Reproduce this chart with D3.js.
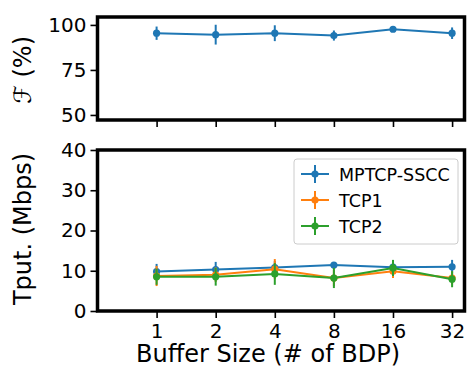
<!DOCTYPE html>
<html>
<head>
<meta charset="utf-8">
<script src="https://cdn.jsdelivr.net/npm/d3@7"></script>
<style>
  body { margin: 0; background: #fff; }
  svg { display: block; font-family: "DejaVu Sans", sans-serif; }
</style>
</head>
<body>
<div id="chart"></div>
<script>
var width = 467,
  height = 367;

// x categories (buffer size in # of BDP)
var bufferSizes = ["1", "2", "4", "8", "16", "32"];

// top panel: fairness (%)
var fairness = [95.4, 94.6, 95.4, 94.1, 97.6, 95.4];
var fairnessErr = [3.7, 5.5, 4.4, 2.8, 0.6, 3.2];
var fairnessTicks = [50, 75, 100];

// bottom panel: throughput (Mbps)
var seriesNames = ["MPTCP-SSCC", "TCP1", "TCP2"];
var mptcp = [9.8, 10.3, 10.8, 11.4, 10.9, 11.0];
var mptcpErr = [1.9, 1.9, 1.6, 0.7, 1.2, 1.7];
var tcp1 = [8.7, 9.0, 10.4, 8.2, 9.9, 8.2];
var tcp1Err = [2.5, 1.8, 2.5, 2.0, 1.7, 1.6];
var tcp2 = [8.5, 8.5, 9.2, 8.2, 10.7, 7.9];
var tcp2Err = [2.0, 2.2, 2.7, 2.5, 2.0, 2.0];
var tputTicks = [0, 10, 20, 30, 40];

var colors = ["#1f77b4", "#ff7f0e", "#2ca02c"];

var svg = d3.select("#chart").append("svg")
  .attr("width", width)
  .attr("height", height);

var left = 97.5, right = 464.5;

var x = d3.scaleLinear()
  .domain([-1, 5.21])
  .range([left, right]);

var yTop = d3.scaleLinear()
  .domain([47.2, 104.4])
  .range([120, 17]);

var yBot = d3.scaleLinear()
  .domain([0, 40])
  .range([311, 150]);

function drawAxes(y, ticks, showX) {
  var g = svg.append("g");
  var yAxis = d3.axisLeft(y).tickValues(ticks).tickSize(7).tickPadding(4);
  var ga = g.append("g").attr("transform", "translate(" + left + ",0)").call(yAxis);
  ga.select(".domain").remove();
  ga.selectAll(".tick line").attr("stroke", "#000").attr("stroke-width", 1.6);
  ga.selectAll(".tick text").attr("font-size", 20).attr("fill", "#000")
    .attr("font-family", "DejaVu Sans");

  var xAxis = d3.axisBottom(x).tickValues(d3.range(bufferSizes.length))
    .tickSize(7).tickPadding(6)
    .tickFormat(function (d) { return showX ? bufferSizes[d] : ""; });
  var gx = g.append("g").attr("transform", "translate(0," + y.range()[0] + ")").call(xAxis);
  gx.select(".domain").remove();
  gx.selectAll(".tick line").attr("stroke", "#000").attr("stroke-width", 1.6);
  gx.selectAll(".tick text").attr("font-size", 20).attr("fill", "#000")
    .attr("font-family", "DejaVu Sans");
}

function drawFrame(y) {
  svg.append("rect")
    .attr("x", left)
    .attr("y", y.range()[1])
    .attr("width", right - left)
    .attr("height", y.range()[0] - y.range()[1])
    .attr("fill", "none")
    .attr("stroke", "#000")
    .attr("stroke-width", 3.5);
}

function drawSeries(y, values, errs, color) {
  var g = svg.append("g");
  var line = d3.line()
    .x(function (d, i) { return x(i); })
    .y(function (d) { return y(d); });

  g.append("path")
    .datum(values)
    .attr("d", line)
    .attr("fill", "none")
    .attr("stroke", color)
    .attr("stroke-width", 2);

  g.selectAll("line.err")
    .data(values)
    .enter()
    .append("line")
    .attr("class", "err")
    .attr("x1", function (d, i) { return x(i); })
    .attr("x2", function (d, i) { return x(i); })
    .attr("y1", function (d, i) { return y(d - errs[i]); })
    .attr("y2", function (d, i) { return y(d + errs[i]); })
    .attr("stroke", color)
    .attr("stroke-width", 2);

  g.selectAll("circle")
    .data(values)
    .enter()
    .append("circle")
    .attr("cx", function (d, i) { return x(i); })
    .attr("cy", function (d) { return y(d); })
    .attr("r", 3.6)
    .attr("fill", color);
}

// top panel
drawAxes(yTop, fairnessTicks, false);
drawSeries(yTop, fairness, fairnessErr, colors[0]);
drawFrame(yTop);

// bottom panel
drawAxes(yBot, tputTicks, true);
drawSeries(yBot, mptcp, mptcpErr, colors[0]);
drawSeries(yBot, tcp1, tcp1Err, colors[1]);
drawSeries(yBot, tcp2, tcp2Err, colors[2]);
drawFrame(yBot);

// legend
var legend = svg.append("g").attr("transform", "translate(294,159)");
legend.append("rect")
  .attr("width", 164)
  .attr("height", 85)
  .attr("rx", 3)
  .attr("fill", "#fff")
  .attr("fill-opacity", 0.8)
  .attr("stroke", "#cccccc")
  .attr("stroke-width", 1);

seriesNames.forEach(function (name, i) {
  var row = legend.append("g").attr("transform", "translate(0," + (15 + i * 26) + ")");
  row.append("line").attr("x1", 7).attr("x2", 35).attr("y1", 0).attr("y2", 0)
    .attr("stroke", colors[i]).attr("stroke-width", 2);
  row.append("line").attr("x1", 21).attr("x2", 21).attr("y1", -9).attr("y2", 9)
    .attr("stroke", colors[i]).attr("stroke-width", 2);
  row.append("circle").attr("cx", 21).attr("cy", 0).attr("r", 3.6).attr("fill", colors[i]);
  row.append("text").attr("x", 45).attr("y", 6.5)
    .attr("font-size", 17.5).attr("fill", "#000").text(name);
});

// axis labels
svg.append("text")
  .attr("transform", "translate(31,70) rotate(-90)")
  .attr("text-anchor", "middle")
  .attr("font-size", 24)
  .attr("fill", "#000")
  .text("\u2131 (%)");

svg.append("text")
  .attr("transform", "translate(31,229) rotate(-90)")
  .attr("text-anchor", "middle")
  .attr("font-size", 24)
  .attr("fill", "#000")
  .text("Tput. (Mbps)");

svg.append("text")
  .attr("x", 268)
  .attr("y", 361.5)
  .attr("text-anchor", "middle")
  .attr("font-size", 24)
  .attr("fill", "#000")
  .text("Buffer Size (# of BDP)");
</script>
</body>
</html>
